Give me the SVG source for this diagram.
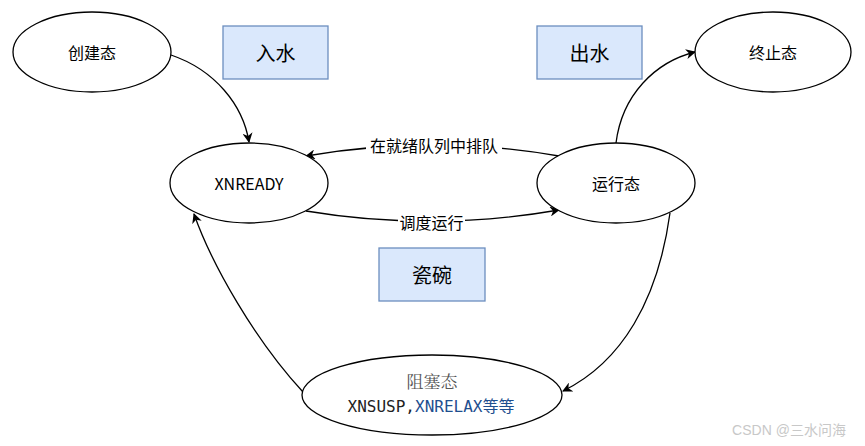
<svg xmlns="http://www.w3.org/2000/svg" width="865" height="446" viewBox="0 0 865 446">
<defs>
<marker id="arr" viewBox="0 0 10 10" refX="9" refY="5" markerWidth="10" markerHeight="10" markerUnits="userSpaceOnUse" orient="auto">
<path d="M0,0 L10,5 L0,10 L3,5 Z" fill="#000"/>
</marker>
<style>
.node{fill:#fff;stroke:#000;stroke-width:1.3}
.box{fill:#dae8fc;stroke:#6c8ebf;stroke-width:1.3}
.t{font-family:"Noto Sans CJK SC","Noto Sans",sans-serif;font-size:16px;fill:#000;text-anchor:middle;dominant-baseline:central}
.bt{font-family:"Noto Sans CJK SC","Noto Sans",sans-serif;font-size:20px;fill:#000;text-anchor:middle;dominant-baseline:central}
.edge{fill:none;stroke:#000;stroke-width:1.3;marker-end:url(#arr)}
.lbl{font-family:"Noto Sans CJK SC","Noto Sans",sans-serif;font-size:16px;fill:#000;text-anchor:middle;dominant-baseline:central}
</style>
</defs>
<rect width="865" height="446" fill="#fff"/>
<g id="connectors">
<path class="edge" d="M171,55 C215,70 243,105 249,142"/>
<path class="edge" d="M306,211 Q432,232 559,210"/>
<path class="edge" d="M559,156 Q432,134 306,156"/>
<path class="edge" d="M616,143 C622,95 655,62 695,52"/>
<path class="edge" d="M670,213 C658,300 622,362 563,391"/>
<path class="edge" d="M303,392 C255,340 212,265 194,214"/>
<rect x="366" y="136" width="136" height="19" fill="#fff"/>
<text class="lbl" x="434" y="145">在就绪队列中排队</text>
<rect x="398" y="213" width="67" height="19" fill="#fff"/>
<text class="lbl" x="431.5" y="222">调度运行</text>
</g>
<g id="create"><ellipse class="node" cx="92" cy="52" rx="79" ry="40"/><text class="t" x="92" y="52">创建态</text></g>
<g id="rushui"><rect class="box" x="223" y="26" width="105" height="53"/><text class="bt" x="275.5" y="52.5">入水</text></g>
<g id="chushui"><rect class="box" x="537" y="26" width="105" height="53"/><text class="bt" x="589.5" y="52.5">出水</text></g>
<g id="terminate"><ellipse class="node" cx="773" cy="52" rx="78" ry="40"/><text class="t" x="773" y="52">终止态</text></g>
<g id="xnready"><ellipse class="node" cx="249" cy="183" rx="79" ry="40"/><text class="t" x="249" y="183">XNREADY</text></g>
<g id="running"><ellipse class="node" cx="616" cy="183" rx="79" ry="40"/><text class="t" x="616" y="183">运行态</text></g>
<g id="ciwan"><rect class="box" x="379" y="248" width="106" height="53"/><text class="bt" x="432" y="274.5">瓷碗</text></g>
<g id="blocked"><ellipse class="node" cx="432" cy="395" rx="130" ry="40"/>
<text x="432" y="380" font-family="'Noto Serif CJK SC','Liberation Serif',serif" font-size="17" fill="#555" text-anchor="middle" dominant-baseline="central">阻塞态</text>
<text x="431" y="406" font-family="'DejaVu Sans Mono','Noto Sans CJK SC',monospace" font-size="16" text-anchor="middle" dominant-baseline="central"><tspan fill="#222">XNSUSP,</tspan><tspan fill="#1f4f8f">XNRELAX等等</tspan></text>
</g>
<text x="789" y="430" font-family="'Liberation Sans','Noto Sans CJK SC',sans-serif" font-size="14" fill="#c8c8c8" text-anchor="middle" dominant-baseline="central">CSDN @三水问海</text>
</svg>
